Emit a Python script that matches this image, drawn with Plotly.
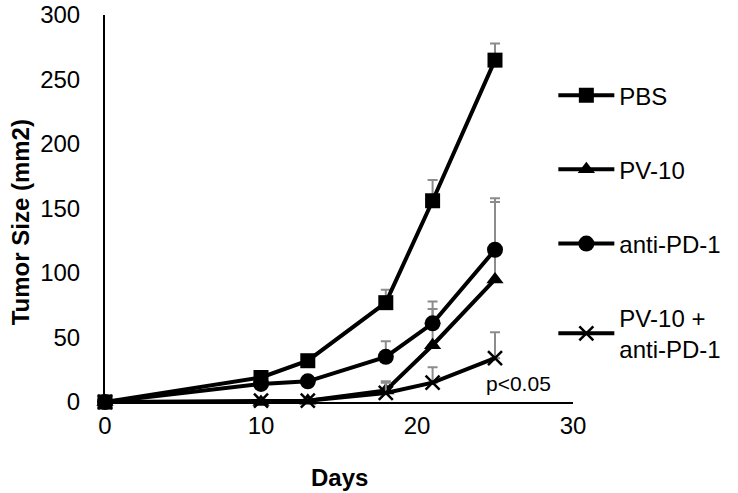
import plotly.graph_objects as go

days = [0, 10, 13, 18, 21, 25]

series_names = ["PBS", "PV-10", "anti-PD-1", "PV-10 +<br>anti-PD-1"]
pbs = [0, 19, 32, 77, 156, 265]
pbs_err = [0, 2, 3, 10, 16, 13]
pv10 = [0, 0, 1, 9, 44, 95]
pv10_err = [0, 0, 1, 7, 28, 60]
antipd1 = [0, 14, 16, 35, 61, 118]
antipd1_err = [0, 2, 2, 12, 17, 40]
combo = [0, 1, 1, 7, 15, 34]
combo_err = [0, 1, 1, 8, 12, 20]

x_ticks = [0, 10, 20, 30]
y_ticks = [0, 50, 100, 150, 200, 250, 300]

FONT = "Liberation Sans, Arial, sans-serif"

values = [pbs, pv10, antipd1, combo]
errors = [pbs_err, pv10_err, antipd1_err, combo_err]
symbols = ["square", "triangle-up", "circle", "x-thin"]
sizes = [15, 15, 16, 14]

fig = go.Figure()
for name, y, e, sym, sz in zip(series_names, values, errors, symbols, sizes):
    fig.add_trace(go.Scatter(
        x=days, y=y, name=name, mode="lines+markers",
        legendgroup=name,
        line=dict(color="black", width=4),
        marker=dict(symbol=sym, size=sz, color="black",
                    line=dict(color="black", width=2.5 if sym == "x-thin" else 0)),
        error_y=dict(type="data", symmetric=False, array=e,
                     arrayminus=[0] * len(e), color="#8c8c8c",
                     thickness=2, width=5),
        cliponaxis=False,
    ))

fig.add_annotation(x=26.5, y=14, text="p<0.05", showarrow=False,
                   font=dict(size=21, color="black", family=FONT))

# axis titles placed as annotations
fig.add_annotation(xref="paper", yref="paper", x=0.5, y=-0.194,
                   xanchor="center", yanchor="middle",
                   text="<b>Days</b>", showarrow=False,
                   font=dict(size=24, family=FONT, color="black"))
fig.add_annotation(xref="paper", yref="paper", x=-0.181, y=0.465,
                   xanchor="center", yanchor="middle",
                   text="<b>Tumor Size (mm2)</b>", showarrow=False,
                   textangle=-90,
                   font=dict(size=24, family=FONT, color="black"))

fig.update_layout(
    width=738, height=493,
    margin=dict(l=105, r=160, t=15, b=91),
    paper_bgcolor="white", plot_bgcolor="white",
    font=dict(family=FONT, size=24, color="black"),
    showlegend=True,
    legend=dict(x=0.958, y=0.85, xanchor="left", yanchor="top",
                font=dict(size=24, family=FONT), tracegroupgap=40,
                itemwidth=56, bgcolor="rgba(0,0,0,0)"),
)
fig.update_xaxes(range=[0, 30], tickvals=x_ticks, showline=True,
                 linecolor="black", linewidth=2, showgrid=False,
                 zeroline=False, ticks="", ticklabelstandoff=1,
                 ticklabeloverflow="allow", automargin=False)
fig.update_yaxes(range=[0, 300], tickvals=y_ticks, showline=True,
                 linecolor="black", linewidth=2, showgrid=False,
                 zeroline=False, ticks="", ticklabelstandoff=18,
                 ticklabeloverflow="allow", automargin=False)

fig.write_html("out.html",
               config={"displayModeBar": False},
               post_script="document.body.style.margin='0px';")
